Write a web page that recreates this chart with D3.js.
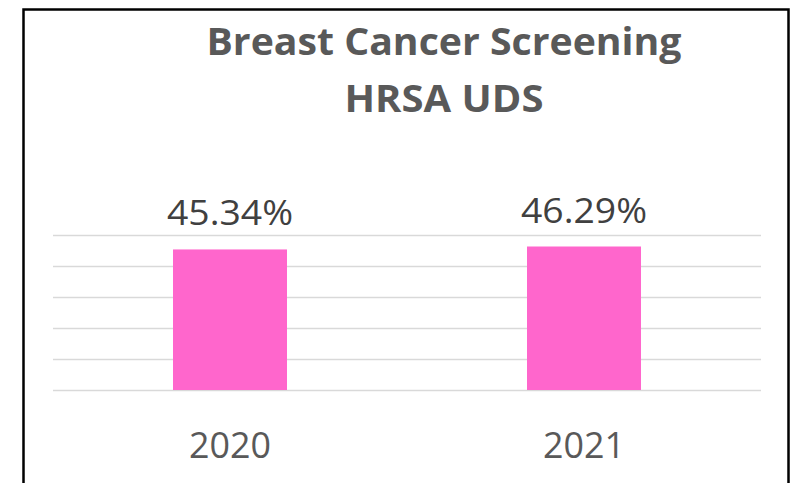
<!DOCTYPE html>
<html>
<head>
<meta charset="utf-8">
<script src="https://cdn.jsdelivr.net/npm/d3@7"></script>
<style>
  body { margin: 0; background: #fff; }
  text { font-family: "Open Sans", sans-serif; }
</style>
</head>
<body>
<div id="chart"></div>
<script>
const years = ["2020", "2021"]
const rates = [45.34, 46.29]
const gridTicks = [0, 10, 20, 30, 40, 50]
const titleLines = ["Breast Cancer Screening", "HRSA UDS"]

const width = 800, height = 483
const margin = { top: 235, right: 39, bottom: 93, left: 53 }
const innerW = width - margin.left - margin.right,
    innerH = height - margin.top - margin.bottom

const svg = d3.select("#chart")
    .append("svg")
    .attr("width", width)
    .attr("height", height)

// frame (bottom edge runs off the picture)
svg.append("rect")
    .attr("x", 23.5).attr("y", 9.5)
    .attr("width", 765).attr("height", 500)
    .attr("fill", "none")
    .attr("stroke", "#000")
    .attr("stroke-width", 2.5)

svg.selectAll(".title")
    .data(titleLines)
    .enter().append("text")
    .attr("class", "title")
    .attr("x", 444)
    .attr("y", (d, i) => 55 + i * 57)
    .attr("text-anchor", "middle")
    .attr("font-size", 38)
    .attr("font-weight", "bold")
    .attr("fill", "#595959")
    .attr("textLength", (d, i) => i === 0 ? 475 : 199)
    .attr("lengthAdjust", "spacingAndGlyphs")
    .text(d => d)

const g = svg.append("g")
    .attr("transform", "translate(" + margin.left + "," + margin.top + ")")

const x = d3.scaleBand()
    .domain(years)
    .range([0, innerW])
    .paddingInner(0.678)
    .paddingOuter(0.339)

const y = d3.scaleLinear().domain([0, 50]).range([innerH, 0])

// gridlines
g.append("g")
    .call(d3.axisLeft(y).tickValues(gridTicks).tickSize(-innerW).tickFormat(""))
    .call(a => a.select(".domain").remove())
    .call(a => a.selectAll(".tick line").attr("stroke", "#d9d9d9").attr("stroke-width", 1.5))

g.selectAll(".bar")
    .data(rates)
    .enter().append("rect")
    .attr("class", "bar")
    .attr("x", (d, i) => x(years[i]))
    .attr("y", d => y(d))
    .attr("width", x.bandwidth())
    .attr("height", d => innerH - y(d))
    .attr("fill", "#ff66cc")

g.selectAll(".val")
    .data(rates)
    .enter().append("text")
    .attr("class", "val")
    .attr("x", (d, i) => x(years[i]) + x.bandwidth() / 2)
    .attr("y", d => y(d) - 24)
    .attr("text-anchor", "middle")
    .attr("font-size", 35)
    .attr("fill", "#404040")
    .attr("textLength", 126)
    .attr("lengthAdjust", "spacingAndGlyphs")
    .text(d => d.toFixed(2) + "%")

// category axis, no line or ticks
g.append("g")
    .attr("transform", "translate(0," + innerH + ")")
    .call(d3.axisBottom(x).tickSize(0).tickPadding(68))
    .call(a => a.select(".domain").remove())
    .call(a => a.selectAll("text")
        .attr("font-family", "Open Sans")
        .attr("font-size", 36)
        .attr("fill", "#595959")
        .attr("dy", 0)
        .attr("textLength", 82)
        .attr("lengthAdjust", "spacingAndGlyphs"))
</script>
</body>
</html>
